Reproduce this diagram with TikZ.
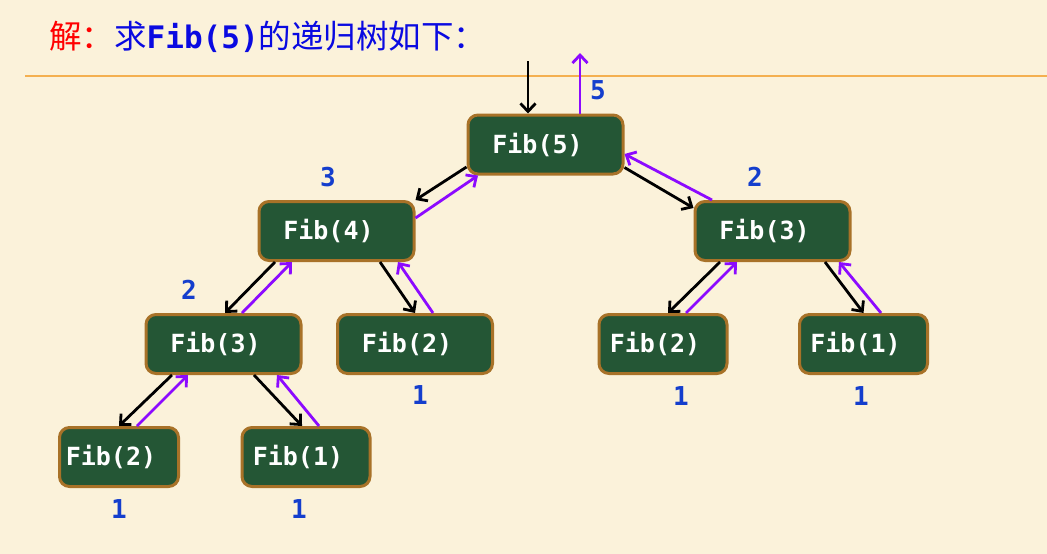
\documentclass[tikz,border=0pt]{standalone}
\usepackage{fontspec}
\setmonofont{DejaVu Sans Mono}
\newfontfamily\cjk{Noto Sans CJK SC}
\usetikzlibrary{arrows.meta}
\definecolor{paper}{RGB}{251,242,218}
\definecolor{rulecolor}{RGB}{244,176,80}
\definecolor{boxgreen}{RGB}{36,86,53}
\definecolor{boxrim}{RGB}{168,114,40}
\definecolor{valblue}{RGB}{20,62,205}
\definecolor{titleblue}{RGB}{10,10,225}
\definecolor{retpurple}{RGB}{140,10,255}
\newcommand{\fibtext}[1]{Fib(#1)\kern16pt}

\begin{document}
\begin{tikzpicture}[
    x=1pt, y=-1pt,
    fib node/.style={draw=boxrim, fill=boxgreen, line width=3pt, rounded corners=10pt,
        minimum width=155pt, minimum height=59pt, inner sep=0pt, text=white,
        font=\ttfamily\bfseries\fontsize{25pt}{25pt}\selectfont},
    val node/.style={text=valblue, inner sep=0pt,
        font=\ttfamily\bfseries\fontsize{26pt}{26pt}\selectfont},
    call/.style={draw=black, line width=2.8pt, -{Straight Barb[length=8pt,width=15pt]}},
    ret/.style={draw=retpurple, line width=2.8pt, -{Straight Barb[length=8pt,width=15pt]}}
]
    \useasboundingbox (0,0) rectangle (1047,554);
    \fill[paper] (0,0) rectangle (1047,554);

    % title and rule
    \node[anchor=base west, inner sep=0pt, font=\cjk\fontsize{32.5pt}{32.5pt}\selectfont] (title) at (49,48)
        {\textcolor{red}{解：}\textcolor{titleblue}{求{\ttfamily\bfseries\fontsize{31pt}{31pt}\selectfont Fib(5)}的递归树如下：}};
    \draw[rulecolor, line width=2pt] (25,76) -- (1047,76);

    % recursion tree
    \node[fib node] (f5)  at (545.5,144.5) {\fibtext{5}};
    \node[fib node] (f4)  at (336.5,231)   {\fibtext{4}};
    \node[fib node] (f3r) at (772.5,231)   {\fibtext{3}};
    \node[fib node] (f3l) at (223.5,344)   {\fibtext{3}};
    \node[fib node] (f2m) at (415,344)     {\fibtext{2}};
    \node[fib node, minimum width=128pt] (f2r) at (663,344)   {\fibtext{2}};
    \node[fib node, minimum width=128pt] (f1r) at (863.5,344) {\fibtext{1}};
    \node[fib node, minimum width=119pt] (f2b) at (119,457)   {\fibtext{2}};
    \node[fib node, minimum width=128pt] (f1b) at (306,457)   {\fibtext{1}};

    \coordinate (in)  at (528,61);
    \coordinate (out) at (580,53);

    % calls (down) and returns (up)
    \draw[call] (in) -- ([xshift=-17.5pt]f5.north);
    \draw[ret]  ([xshift=34.5pt]f5.north) -- (out);

    \draw[call] ([yshift=-22.5pt]f5.west) -- (f4.north east);
    \draw[ret]  ([yshift=13pt]f4.east) -- ([xshift=11.5pt]f5.south west);
    \draw[call] ([yshift=8pt]f5.south east) -- ([yshift=23pt]f3r.west);
    \draw[ret]  ([xshift=18.5pt]f3r.north west) -- ([yshift=-9.5pt]f5.east);

    \draw[call] ([xshift=17.5pt]f4.south west) -- ([xshift=1.5pt]f3l.north);
    \draw[ret]  ([xshift=18.5pt]f3l.north) -- ([xshift=34.5pt]f4.south west);
    \draw[call] ([xshift=-35.5pt]f4.south east) -- (f2m.north);
    \draw[ret]  ([xshift=18pt]f2m.north) -- ([xshift=-17.5pt]f4.south east);

    \draw[call] ([xshift=27.5pt]f3l.south west) -- (f2b.north);
    \draw[ret]  ([xshift=18pt]f2b.north) -- ([xshift=43.5pt]f3l.south west);
    \draw[call] ([xshift=-48.5pt]f3l.south east) -- ([xshift=-4pt]f1b.north);
    \draw[ret]  ([xshift=13pt]f1b.north) -- ([xshift=-25.5pt]f3l.south east);

    \draw[call] ([xshift=26.5pt]f3r.south west) -- ([xshift=5pt]f2r.north);
    \draw[ret]  ([xshift=23pt]f2r.north) -- ([xshift=43.5pt]f3r.south west);
    \draw[call] ([xshift=-26.5pt]f3r.south east) -- (f1r.north);
    \draw[ret]  ([xshift=17.5pt]f1r.north) -- ([xshift=-12.5pt]f3r.south east);

    % returned values
    \node[val node] (v5)  at (598,90)  {5};
    \node[val node] (v4)  at (328,177) {3};
    \node[val node] (v3r) at (755,177) {2};
    \node[val node] (v3l) at (189,290) {2};
    \node[val node] (v2m) at (420,395) {1};
    \node[val node] (v2r) at (681,396) {1};
    \node[val node] (v1r) at (861,396) {1};
    \node[val node] (v2b) at (119,509) {1};
    \node[val node] (v1b) at (299,509) {1};
\end{tikzpicture}
\end{document}
